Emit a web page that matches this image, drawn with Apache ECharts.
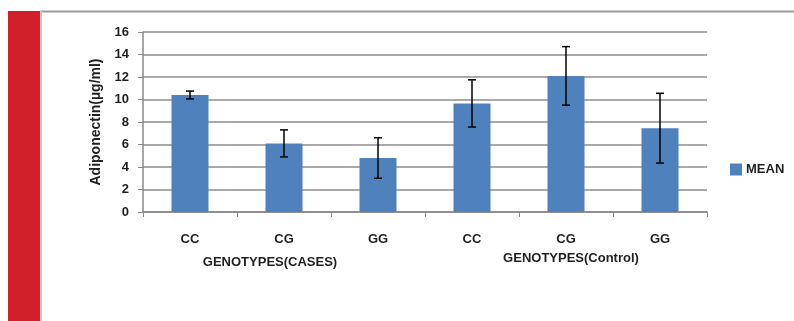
<!DOCTYPE html>
<html><head><meta charset="utf-8">
<script src="https://cdn.jsdelivr.net/npm/echarts@6/dist/echarts.min.js"></script>
<style>html,body{margin:0;padding:0;background:#fff}#c{width:794px;height:321px}</style>
</head><body><div id="c"></div>
<script>
var categories = ['CC','CG','GG','CC','CG','GG'];
var meanValues = [10.4, 6.1, 4.8, 9.65, 12.1, 7.45];
var errorValues = [0.35, 1.2, 1.8, 2.1, 2.6, 3.1];
var groupTitles = ['GENOTYPES(CASES)', 'GENOTYPES(Control)'];
var yTicks = [0,2,4,6,8,10,12,14,16];

var font = '"Liberation Sans", Arial, sans-serif';
var txt = '#1f1f1f';
var chart = echarts.init(document.getElementById('c'));
chart.setOption({
  animation: false,
  textStyle: {fontFamily: font},
  graphic: [
    {type:'rect', shape:{x:8,y:11,width:32,height:310}, style:{fill:'#D2202A'}},
    {type:'line', shape:{x1:40,y1:11.5,x2:794,y2:11.5}, style:{stroke:'#9a9a9a',lineWidth:2}},
    {type:'line', shape:{x1:41,y1:11,x2:41,y2:321}, style:{stroke:'#c8c8c8',lineWidth:2}},
    {type:'text', x:270, y:262, style:{text:groupTitles[0], font:'bold 13px '+font, fill:txt, textAlign:'center', textVerticalAlign:'middle'}},
    {type:'text', x:571, y:258, style:{text:groupTitles[1], font:'bold 13px '+font, fill:txt, textAlign:'center', textVerticalAlign:'middle'}}
  ],
  legend: {
    data:[{name:'MEAN', icon:'rect'}], orient:'vertical', left:730, top:163, padding:0,
    itemWidth:12, itemHeight:12, itemGap:4,
    textStyle:{fontSize:13, fontWeight:'bold', color:txt, fontFamily:font, padding:[0,0,0,-1]}
  },
  grid: {left:143, right:87, top:32, bottom:109, containLabel:false},
  xAxis: {
    type:'category', data:categories,
    axisLine:{lineStyle:{color:'#888', width:1.5}},
    axisTick:{show:true, alignWithLabel:false, length:5, lineStyle:{color:'#888'}},
    axisLabel:{margin:21, fontSize:13, fontWeight:'bold', color:txt, fontFamily:font, interval:0}
  },
  yAxis: {
    type:'value', min:0, max:16, interval:2,
    name:'Adiponectin(µg/ml)', nameLocation:'middle', nameGap:36,
    nameTextStyle:{fontSize:14, fontWeight:'bold', color:txt, fontFamily:font},
    axisLine:{show:true, lineStyle:{color:'#888', width:1.5}},
    axisTick:{show:true, length:5, lineStyle:{color:'#888'}},
    axisLabel:{fontSize:13, fontWeight:'bold', color:txt, margin:14, fontFamily:font,
      formatter:function(v){ return yTicks.indexOf(v)>=0 ? String(v) : ''; }},
    splitLine:{lineStyle:{color:'#8c8c8c', width:1.5}}
  },
  series: [
    {name:'MEAN', type:'bar', data:meanValues, barWidth:37,
     itemStyle:{color:'#4F81BD'}},
    {name:'err', type:'custom', z:5,
     data: meanValues.map(function(m,i){ return [i, m-errorValues[i], m+errorValues[i]]; }),
     encode:{x:0, y:[1,2]},
     renderItem:function(params, api){
       var lo = api.coord([api.value(0), api.value(1)]);
       var hi = api.coord([api.value(0), api.value(2)]);
       var hw = 4;
       var st = {stroke:'#000', lineWidth:1.5};
       return {type:'group', children:[
         {type:'line', shape:{x1:hi[0],y1:hi[1],x2:lo[0],y2:lo[1]}, style:st},
         {type:'line', shape:{x1:hi[0]-hw,y1:hi[1],x2:hi[0]+hw,y2:hi[1]}, style:st},
         {type:'line', shape:{x1:lo[0]-hw,y1:lo[1],x2:lo[0]+hw,y2:lo[1]}, style:st}
       ]};
     }}
  ]
});
</script></body></html>
